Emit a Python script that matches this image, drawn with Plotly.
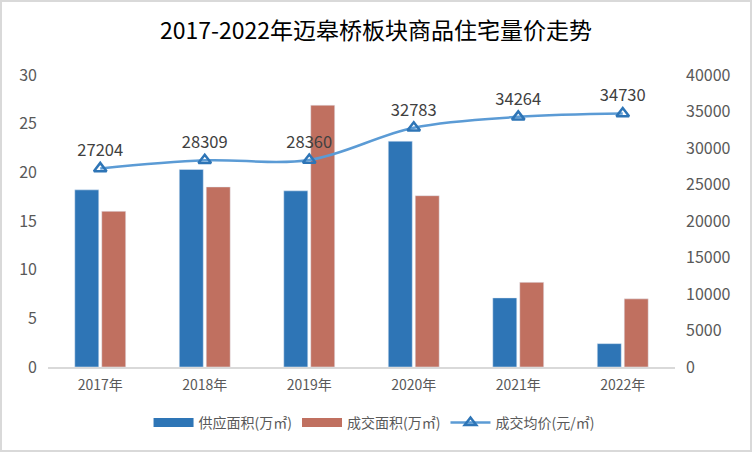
import plotly.graph_objects as go

years = ["2017年", "2018年", "2019年", "2020年", "2021年", "2022年"]
supply = [18.2, 20.3, 18.1, 23.2, 7.1, 2.4]
deal = [16.0, 18.5, 26.9, 17.6, 8.7, 7.0]
price = [27204, 28309, 28360, 32783, 34264, 34730]

names = ["供应面积(万㎡)", "成交面积(万㎡)", "成交均价(元/㎡)"]
BLUE = "#2E75B6"
RED = "#C07060"
LINE = "#5B9BD5"
FONT = "Noto Sans CJK SC"

fig = go.Figure()
fig.add_trace(go.Bar(x=years, y=supply, name=names[0], marker_color=BLUE, showlegend=False))
fig.add_trace(go.Bar(x=years, y=deal, name=names[1], marker_color=RED, showlegend=False))
fig.add_trace(go.Scatter(
    x=years, y=price, name=names[2], yaxis="y2", showlegend=False,
    mode="lines+markers+text", line=dict(color=LINE, width=2.5, shape="spline"),
    marker=dict(symbol="triangle-up-open", size=11, color=BLUE, line=dict(width=2.5)),
    text=[str(p) for p in price], textposition="top center",
    textfont=dict(size=16.5, color="#404040", family=FONT),
))
# legend entries
fig.add_trace(go.Scatter(x=[None], y=[None], mode="lines", name=names[0],
                         line=dict(color=BLUE, width=9)))
fig.add_trace(go.Scatter(x=[None], y=[None], mode="lines", name=names[1],
                         line=dict(color=RED, width=9)))
fig.add_trace(go.Scatter(x=[None], y=[None], mode="lines+markers", name=names[2],
                         line=dict(color=LINE, width=2.5),
                         marker=dict(symbol="triangle-up-open", size=10, color=BLUE,
                                     line=dict(width=2.5))))

fig.update_layout(
    width=752, height=452,
    margin=dict(l=48, r=77, t=75, b=85, autoexpand=False),
    paper_bgcolor="white", plot_bgcolor="white",
    font=dict(family=FONT, color="#595959", size=14),
    title=dict(text="2017-2022年迈皋桥板块商品住宅量价走势", x=0.5, xanchor="center",
               y=1 - 31 / 452, yanchor="middle", font=dict(size=23, color="#000000", family=FONT)),
    barmode="group", bargap=0.484, bargroupgap=0.11,
    xaxis=dict(showline=True, linecolor="#D9D9D9", linewidth=1.5, ticks="",
               tickfont=dict(size=14, color="#595959"), automargin=False, ticklabelstandoff=4),
    yaxis=dict(range=[0, 30], dtick=5, showgrid=False, zeroline=False, ticks="",
               tickfont=dict(size=16, color="#595959"), ticklabelstandoff=10, automargin=False),
    yaxis2=dict(range=[0, 40000], dtick=5000, overlaying="y", side="right", showgrid=False,
                zeroline=False, ticks="", tickformat="d", automargin=False, ticklabelstandoff=10,
                tickfont=dict(size=16, color="#595959")),
    legend=dict(orientation="h", x=0.52, xanchor="center", y=-56 / 292, yanchor="middle",
                font=dict(size=14, color="#595959"), traceorder="normal", itemwidth=40),
    showlegend=True,
    shapes=[dict(type="rect", xref="paper", yref="paper",
                 x0=-47 / 627, x1=1 + 76 / 627, y0=-84 / 292, y1=1 + 74 / 292,
                 line=dict(color="#D9D9D9", width=2))],
)

fig.write_html("out.html", config={"displayModeBar": False},
               post_script="document.body.style.margin='0';")
